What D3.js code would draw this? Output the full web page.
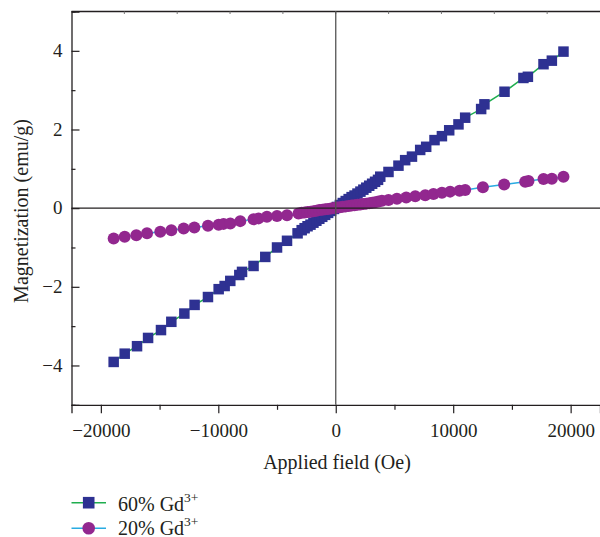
<!DOCTYPE html>
<html><head><meta charset="utf-8">
<script src="https://cdn.jsdelivr.net/npm/d3@7"></script>
<style>html,body{margin:0;padding:0;background:#fff;}svg{display:block;}</style>
</head><body>
<svg id="chart" width="600" height="537"></svg>
<script>
// ---- data ----
const fieldHigh = [-18910,-17970,-16920,-15980,-14880,-14000,-12890,-12020,-10880,-9970,-9460,-8980,-8210,-7980,-7000,-6000,-5000,-4150,-3250,
  -2900,-2650,-2400,-2150,-1900,-1650,-1400,-1150,-900,-650,-400,-150,100,350,600,850,1100,1350,1600,1850,2100,2350,2600,2850,3100,3350,3600,
  3790,4490,5340,5910,6490,7190,7700,8410,9040,9660,10450,11020,12380,12660,14370,15980,16360,17690,18400,19390];
const momentHigh = [-3.91,-3.70,-3.51,-3.30,-3.10,-2.89,-2.68,-2.46,-2.26,-2.06,-1.98,-1.85,-1.70,-1.62,-1.47,-1.24,-1.00,-0.83,-0.64,
  -0.56,-0.51,-0.46,-0.42,-0.37,-0.32,-0.27,-0.22,-0.17,-0.12,-0.07,-0.02,0.03,0.08,0.13,0.18,0.23,0.28,0.32,0.37,0.42,0.47,0.52,0.57,0.62,0.67,0.72,
  0.80,0.92,1.08,1.22,1.31,1.48,1.56,1.73,1.83,1.98,2.13,2.30,2.52,2.64,2.96,3.31,3.34,3.66,3.75,3.98];

const fieldLow = [-18910,-17970,-16980,-16070,-14940,-14000,-12950,-12040,-10880,-9970,-9550,-8980,-8130,-7000,-6570,-5860,-5000,-4150,-3170,
  -2900,-2650,-2400,-2150,-1900,-1650,-1400,-1150,-900,-650,-400,-150,100,350,600,850,1100,1350,1600,1850,2100,2350,2600,2850,3100,3350,
  3640,3930,4490,5210,6000,6770,7620,8320,9040,9740,10540,11020,12530,14340,16130,16410,17690,18400,19390];
const momentLow = [-0.77,-0.73,-0.69,-0.64,-0.60,-0.56,-0.52,-0.49,-0.45,-0.42,-0.40,-0.39,-0.33,-0.28,-0.26,-0.22,-0.20,-0.18,-0.135,
  -0.12,-0.11,-0.10,-0.09,-0.08,-0.065,-0.05,-0.04,-0.03,-0.02,-0.01,0.005,0.015,0.025,0.035,0.045,0.055,0.065,0.075,0.085,0.095,0.105,0.115,0.125,0.135,0.15,
  0.17,0.19,0.21,0.24,0.27,0.30,0.33,0.36,0.39,0.42,0.44,0.46,0.53,0.60,0.67,0.69,0.74,0.75,0.80];

const xTickValues = [-20000,-10000,0,10000,20000];
const xMinorTicks = [-15000,-5000,5000,15000];
const yTickValues = [-4,-2,0,2,4];
const yMinorTicks = [-5,-3,-1,1,3,5];
const seriesNames = ["60% Gd", "20% Gd"];
const superscript = "3+";

// ---- layout ----
const svg = d3.select("#chart");
const pLeft = 71.5, pRight = 600, pTop = 11.5, pBottom = 404.8;
const x = d3.scaleLinear().domain([-22500, 22500]).range([pLeft, pRight]);
const y = d3.scaleLinear().domain([-5, 5]).range([pBottom, pTop]);
const font = "'Liberation Serif', 'DejaVu Serif', serif";
const axisColor = "#231f20";
const tickFont = 19, titleFont = 20;

const cNavy = "#2e3192", cPurple = "#92278f", cGreen = "#1fae4f", cBlue = "#29abe2";

// frame top
svg.append("line").attr("x1", pLeft).attr("x2", pRight).attr("y1", pTop).attr("y2", pTop)
  .attr("stroke", axisColor).attr("stroke-width", 1.3);
// top small inward ticks
d3.range(-22500, 22501, 4500).forEach(v => {
  if (x(v) > pLeft + 1 && x(v) < pRight - 1)
    svg.append("line").attr("x1", x(v)).attr("x2", x(v)).attr("y1", pTop).attr("y2", pTop + 2.5)
      .attr("stroke", "#777").attr("stroke-width", 1);
});

// bottom axis
const gx = svg.append("g").attr("transform", `translate(0,${pBottom})`)
  .call(d3.axisBottom(x).tickValues(xTickValues).tickSize(8.5).tickPadding(10)
    .tickFormat(d => d < 0 ? "\u2212" + Math.abs(d) : String(d)));
gx.select(".domain").attr("stroke", axisColor).attr("stroke-width", 1.3);
gx.selectAll(".tick line").attr("stroke", axisColor).attr("stroke-width", 1.2);
gx.selectAll("text").attr("font-family", font).attr("font-size", tickFont).attr("fill", "#231f20");
const gxm = svg.append("g").attr("transform", `translate(0,${pBottom})`)
  .call(d3.axisBottom(x).tickValues(xMinorTicks).tickSize(5).tickFormat(""));
gxm.select(".domain").remove();
gxm.selectAll(".tick line").attr("stroke", axisColor).attr("stroke-width", 1.2);

// left axis: ticks inward
const gy = svg.append("g").attr("transform", `translate(${pLeft},0)`)
  .call(d3.axisRight(y).tickValues(yTickValues).tickSize(8).tickFormat(""));
gy.select(".domain").attr("stroke", axisColor).attr("stroke-width", 1.3);
gy.selectAll(".tick line").attr("stroke", axisColor).attr("stroke-width", 1.2);
const gym = svg.append("g").attr("transform", `translate(${pLeft},0)`)
  .call(d3.axisRight(y).tickValues(yMinorTicks).tickSize(4).tickFormat(""));
gym.select(".domain").remove();
gym.selectAll(".tick line").attr("stroke", axisColor).attr("stroke-width", 1.2);
svg.append("g").selectAll("text").data(yTickValues).join("text")
  .attr("x", 62.5).attr("y", d => y(d) + 6.3)
  .attr("text-anchor", "end").attr("font-family", font).attr("font-size", tickFont).attr("fill", "#231f20")
  .text(d => d < 0 ? "\u2212" + Math.abs(d) : String(d));

// axis titles
svg.append("text").attr("x", 337).attr("y", 469).attr("text-anchor", "middle")
  .attr("font-family", font).attr("font-size", titleFont).attr("fill", "#231f20").text("Applied field (Oe)");
svg.append("text").attr("transform", "translate(28,211) rotate(-90)").attr("text-anchor", "middle")
  .attr("font-family", font).attr("font-size", titleFont).attr("fill", "#231f20").text("Magnetization (emu/g)");

// series
const plot = svg.append("g");
const high = fieldHigh.map((f, i) => [f, momentHigh[i]]);
const low = fieldLow.map((f, i) => [f, momentLow[i]]);
const line = d3.line().x(d => x(d[0])).y(d => y(d[1]));
const sq = 10.5, r = 6;

plot.append("path").datum(high).attr("d", line).attr("fill", "none").attr("stroke", cGreen).attr("stroke-width", 1.5);
plot.append("g").selectAll("rect").data(high).join("rect")
  .attr("x", d => x(d[0]) - sq / 2).attr("y", d => y(d[1]) - sq / 2)
  .attr("width", sq).attr("height", sq).attr("fill", cNavy);

plot.append("path").datum(low).attr("d", line).attr("fill", "none").attr("stroke", cBlue).attr("stroke-width", 1.5);
plot.append("g").selectAll("circle").data(low).join("circle")
  .attr("cx", d => x(d[0])).attr("cy", d => y(d[1])).attr("r", r).attr("fill", cPurple);

// zero lines on top
svg.append("line").attr("x1", pLeft).attr("x2", pRight).attr("y1", y(0)).attr("y2", y(0))
  .attr("stroke", "#231f20").attr("stroke-width", 1.3);
svg.append("line").attr("x1", x(0)).attr("x2", x(0)).attr("y1", pTop).attr("y2", pBottom)
  .attr("stroke", "#555").attr("stroke-width", 1.3);

// legend
const legend = svg.append("g");
const rows = [
  {name: seriesNames[0], line: cGreen, fill: cNavy, shape: "square", cy: 502.7, base: 510.5},
  {name: seriesNames[1], line: cBlue, fill: cPurple, shape: "circle", cy: 528.3, base: 534.8}
];
rows.forEach(rw => {
  legend.append("line").attr("x1", 71.5).attr("x2", 106).attr("y1", rw.cy).attr("y2", rw.cy)
    .attr("stroke", rw.line).attr("stroke-width", 1.5);
  if (rw.shape === "square")
    legend.append("rect").attr("x", 88.7 - 5.8).attr("y", rw.cy - 5.8).attr("width", 11.6).attr("height", 11.6).attr("fill", rw.fill);
  else
    legend.append("circle").attr("cx", 88.7).attr("cy", rw.cy).attr("r", 6.3).attr("fill", rw.fill);
  const t = legend.append("text").attr("x", 118).attr("y", rw.base)
    .attr("font-family", font).attr("font-size", titleFont).attr("fill", "#231f20");
  t.append("tspan").text(rw.name);
  t.append("tspan").attr("dy", -8.5).attr("font-size", 13.5).text(superscript);
});
</script>
</body></html>
